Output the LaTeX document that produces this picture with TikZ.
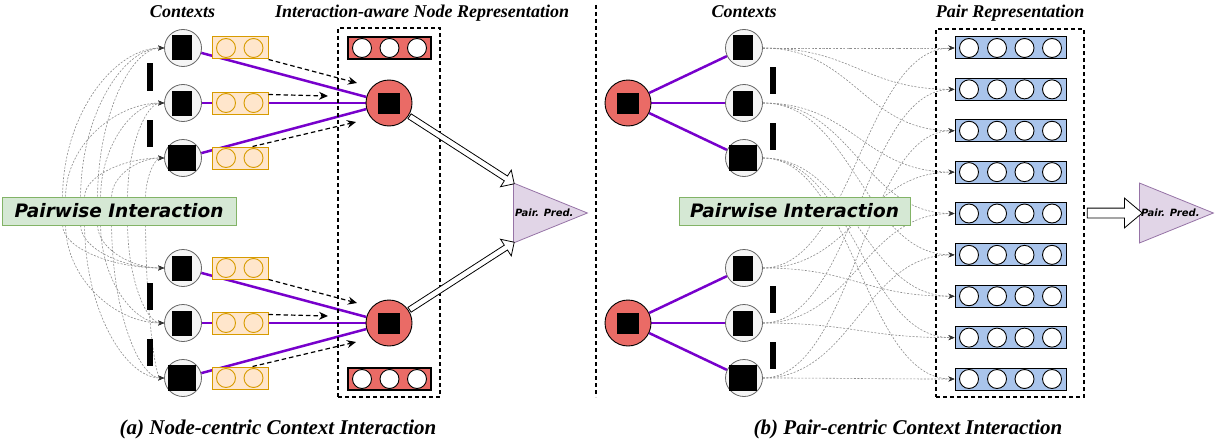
\documentclass[tikz,border=0pt]{standalone}
\usepackage{fontspec}
\setmainfont{Liberation Serif}
\newfontfamily\vfont{DejaVu Sans}
\usetikzlibrary{shapes.geometric,shapes.arrows,arrows.meta,calc,backgrounds}
\definecolor{ctxfill}{HTML}{F5F5F5}
\definecolor{ctxdraw}{HTML}{666666}
\definecolor{orfill}{HTML}{FFE6CC}
\definecolor{ordraw}{HTML}{D79B00}
\definecolor{redfill}{HTML}{EA6B66}
\definecolor{purp}{HTML}{7700CC}
\definecolor{grfill}{HTML}{D5E8D4}
\definecolor{grdraw}{HTML}{82B366}
\definecolor{blfill}{HTML}{A9C4EB}
\definecolor{trfill}{HTML}{E1D5E7}
\definecolor{trdraw}{HTML}{9673A6}
\definecolor{curvec}{HTML}{8C8C8C}
\begin{document}
\begin{tikzpicture}[x=1pt,y=-1pt,
  ctx/.style={circle,draw=ctxdraw,fill=ctxfill,line width=0.8pt,minimum size=37pt,inner sep=0pt},
  blkt/.style={rectangle,fill=black,inner sep=0pt,minimum width=20pt,minimum height=25pt},
  blkw/.style={rectangle,fill=black,inner sep=0pt,minimum width=28pt,minimum height=26pt},
  blks/.style={rectangle,fill=black,inner sep=0pt,minimum width=22pt,minimum height=21pt},
  rednode/.style={circle,draw=black,fill=redfill,line width=0.9pt,minimum size=46pt,inner sep=0pt},
  obox/.style={rectangle,draw=ordraw,fill=orfill,line width=1pt,minimum width=56pt,minimum height=22pt,inner sep=0pt},
  ocirc/.style={circle,draw=ordraw,fill=orfill,line width=0.9pt,minimum size=19pt,inner sep=0pt},
  rbar/.style={rectangle,draw=black,fill=redfill,line width=1.4pt,minimum width=83pt,minimum height=22pt,inner sep=0pt},
  wcirc/.style={circle,draw=black,fill=white,line width=0.9pt,minimum size=19pt,inner sep=0pt},
  bbar/.style={rectangle,draw=black,fill=blfill,line width=1pt,minimum width=111pt,minimum height=22pt,inner sep=0pt},
  pwbox/.style={rectangle,draw=grdraw,fill=grfill,line width=0.8pt,minimum height=28pt,inner sep=0pt,font=\vfont\bfseries\itshape\fontsize{18.5}{20}\selectfont},
  dbox/.style={rectangle,draw=black,dash pattern=on 4pt off 3pt,line width=1.2pt,inner sep=0pt},
  sepline/.style={draw=black,dash pattern=on 4pt off 3pt,line width=1.2pt},
  vbar/.style={rectangle,fill=black,inner sep=0pt,minimum width=6pt,minimum height=27pt},
  purl/.style={draw=purp,line width=2.5pt},
  darr/.style={draw=black,dash pattern=on 4.5pt off 3pt,line width=1.2pt,-{Stealth[length=9pt,width=8pt,inset=3pt]}},
  gcurve/.style={draw=curvec,line width=0.6pt,dash pattern=on 2pt off 1.5pt,-{Stealth[length=6pt,width=5pt,color=black!80]}},
  harrow/.style={single arrow,draw=black,fill=white,line width=0.8pt,inner xsep=0pt,inner ysep=2.5pt,single arrow head extend=7pt,single arrow tip angle=90},
  tri/.style={isosceles triangle,isosceles triangle stretches,draw=trdraw,fill=trfill,line width=0.8pt,minimum width=60pt,minimum height=74pt,inner sep=0pt,font=\vfont\bfseries\itshape\fontsize{10}{11}\selectfont},
  title/.style={font=\bfseries\itshape\fontsize{18}{20}\selectfont,anchor=base,inner sep=0pt},
  capt/.style={font=\bfseries\itshape\fontsize{21}{24}\selectfont,anchor=base,inner sep=0pt}
]
\useasboundingbox (0,0) rectangle (1217,444);

% titles and captions
\node[title] (tl1) at (182.5,18) {Contexts};
\node[title] (tl2) at (422,18) {Interaction-aware Node Representation};
\node[title] (tl3) at (744,18) {Contexts};
\node[title] (tl4) at (1010,18) {Pair Representation};
\node[capt] (cp1) at (278,434) {(a) Node-centric Context Interaction};
\node[capt] (cp2) at (908,434) {(b) Pair-centric Context Interaction};

% separator
\coordinate (sp1) at (596,5);
\coordinate (sp2) at (596,397);
\draw[sepline] (sp1) -- (sp2);

% ===== left panel =====
\node[dbox,minimum width=102pt,minimum height=369pt] (lbox) at (389,212.5) {};
\foreach \k/\y in {1/48,2/103,3/158,4/268,5/323,6/378}{
  \node[ctx] (lc\k) at (183,\y) {};
  \node[obox] (ob\k) at (240,\y) {};
  \node[ocirc] (oca\k) at (226,\y) {};
  \node[ocirc] (ocb\k) at (253.5,\y) {};
}
\foreach \k/\y in {1/48,2/103,4/268,5/323}{\node[blkt] (lq\k) at (182,\y) {};}
\foreach \k/\y in {3/158,6/378}{\node[blkw] (lq\k) at (182,\y) {};}
\foreach \k/\y in {1/77,2/133,3/296,4/352}{\node[vbar] (lv\k) at (150,\y) {};}

\node[rednode] (r1) at (389,103) {};
\node[blks] (r1q) at (389,103) {};
\node[rednode] (r2) at (389,323) {};
\node[blks] (r2q) at (389,323) {};
\foreach \k/\y in {1/48,2/379}{
  \node[rbar] (rb\k) at (389.5,\y) {};
  \node[wcirc] (rba\k) at (362,\y) {};
  \node[wcirc] (rbb\k) at (389.5,\y) {};
  \node[wcirc] (rbc\k) at (417,\y) {};
}
\node[pwbox,minimum width=234pt] (pw1) at (119,211) {Pairwise Interaction};
\node[tri,anchor=west] (tri1) at (513,213) {Pair. Pred.};

% dashed arrows into the red nodes
\coordinate (e1) at (357,83);
\coordinate (e2) at (328,96);
\coordinate (e3) at (356,122);
\coordinate (e4) at (357,303);
\coordinate (e5) at (328,316);
\coordinate (e6) at (356,342);
\draw[darr] (ob1.south east) -- (e1);
\draw[darr] ($(ob2.north east)+(0,3)$) -- (e2);
\draw[darr] ($(ob3.north east)+(-16,0)$) -- (e3);
\draw[darr] (ob4.south east) -- (e4);
\draw[darr] ($(ob5.north east)+(0,3)$) -- (e5);
\draw[darr] ($(ob6.north east)+(-16,0)$) -- (e6);

% hollow arrows to prediction
\coordinate (p1) at ($(tri1.west)+(0,-30)$);
\coordinate (p2) at ($(tri1.west)+(0,30)$);
\coordinate (q1) at ($(r1)!23pt!(p1)$);
\coordinate (q2) at ($(r2)!23pt!(p2)$);
\path let \p1=($(p1)-(q1)$), \n1={atan2(\y1,\x1)}, \n2={veclen(\x1,\y1)} in
  node[harrow,minimum height=\n2,rotate=\n1] (ha1) at ($(q1)!0.5!(p1)$) {};
\path let \p1=($(p2)-(q2)$), \n1={atan2(\y1,\x1)}, \n2={veclen(\x1,\y1)} in
  node[harrow,minimum height=\n2,rotate=\n1] (ha2) at ($(q2)!0.5!(p2)$) {};

% ===== right panel =====
\node[dbox,minimum width=148pt,minimum height=368pt] (rbox) at (1010,213) {};
\foreach \k/\y in {1/48,2/103,3/158,4/268,5/323,6/378}{
  \node[ctx] (rc\k) at (744,\y) {};
}
\foreach \k/\y in {1/48,2/103,4/268,5/323}{\node[blkt] (rq\k) at (743,\y) {};}
\foreach \k/\y in {3/158,6/378}{\node[blkw] (rq\k) at (743,\y) {};}
\foreach \k/\y in {1/80,2/136,3/299,4/355}{\node[vbar] (rv\k) at (773,\y) {};}
\node[rednode] (rr1) at (628,103) {};
\node[blks] (rr1q) at (628,103) {};
\node[rednode] (rr2) at (628,323) {};
\node[blks] (rr2q) at (628,323) {};
\foreach \k in {0,...,8}{
  \pgfmathsetmacro\yy{48+41.375*\k}
  \node[bbar] (bb\k) at (1010.5,\yy) {};
  \node[wcirc] (bba\k) at (969,\yy) {};
  \node[wcirc] (bbb\k) at (997,\yy) {};
  \node[wcirc] (bbc\k) at (1024.5,\yy) {};
  \node[wcirc] (bbd\k) at (1052,\yy) {};
}
\node[pwbox,minimum width=231pt] (pw2) at (794.5,211) {Pairwise Interaction};
\node[tri,anchor=west] (tri2) at (1139,213) {Pair. Pred.};
\node[harrow,inner ysep=4.5pt,single arrow head extend=10pt,single arrow tip angle=80,minimum height=55pt] (ha3) at ($(rbox.east)!0.5!(tri2.west)$) {};

% ===== background: lines and curves =====
\begin{pgfonlayer}{background}
  \foreach \k in {1,2,3}{\draw[purl] (lc\k) -- (r1);}
  \foreach \k in {4,5,6}{\draw[purl] (lc\k) -- (r2);}
  \foreach \k in {1,2,3}{\draw[purl] (rr1) -- (rc\k);}
  \foreach \k in {4,5,6}{\draw[purl] (rr2) -- (rc\k);}
  % left curves from the pairwise box
  \foreach \sx/\k/\cy in {63/1/48,81/1/48,98/1/48,66/2/103,101/2/103,128/2/103,85/3/158,112/3/158,146/3/158}{
    \pgfmathsetmacro\ca{\cy+0.45*(197-\cy)}
    \pgfmathsetmacro\cb{\sx+0.5*(164.5-\sx)}
    \draw[gcurve] ($(pw1.north west)+(\sx-2,0)$) .. controls (\sx,\ca) and (\cb,\cy) .. (lc\k.west);
  }
  \foreach \sx/\k/\cy in {63/4/268,81/4/268,98/4/268,66/5/323,101/5/323,128/5/323,85/6/378,112/6/378,146/6/378}{
    \pgfmathsetmacro\ca{\cy+0.45*(225-\cy)}
    \pgfmathsetmacro\cb{\sx+0.5*(164.5-\sx)}
    \draw[gcurve] ($(pw1.south west)+(\sx-2,0)$) .. controls (\sx,\ca) and (\cb,\cy) .. (lc\k.west);
  }
  % right curves to pair bars
  \foreach \i in {0,1,2}{
    \foreach \j in {0,1,2}{
      \pgfmathtruncatemacro\kk{3*\i+\j}
      \pgfmathtruncatemacro\ti{\i+1}
      \pgfmathtruncatemacro\bj{\j+4}
      \draw[gcurve] (rc\ti.east) .. controls +(90,0) and +(-90,0) .. (bb\kk.west);
      \draw[gcurve] (rc\bj.east) .. controls +(90,0) and +(-90,0) .. (bb\kk.west);
    }
  }
\end{pgfonlayer}
\end{tikzpicture}
\end{document}
